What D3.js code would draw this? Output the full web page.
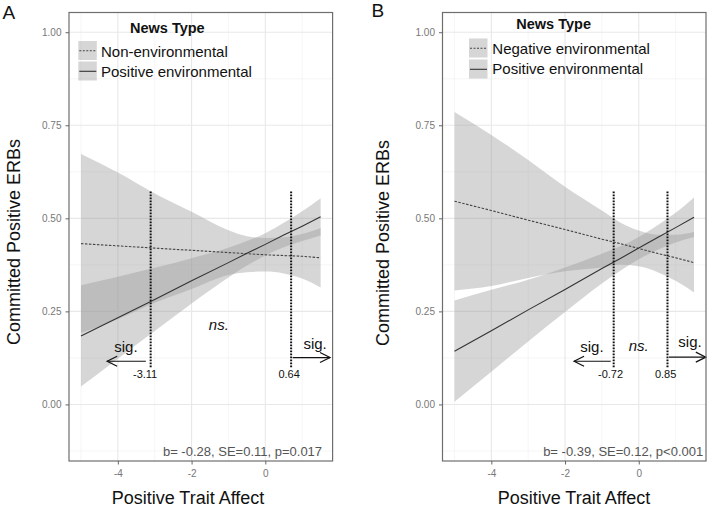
<!DOCTYPE html>
<html><head><meta charset="utf-8">
<script src="https://cdn.jsdelivr.net/npm/d3@7"></script>
<style>body{margin:0;background:#fff} text{font-family:"Liberation Sans",Arial,Helvetica,sans-serif}</style>
</head><body><svg id="c" width="708" height="506"></svg>
<script>
// ---------- data ----------
const xMajor = [-4, -2, 0];
const xMinor = [-5, -3, -1, 1];
const yMajor = [0, 0.25, 0.5, 0.75, 1];
const yMinor = [-0.125, 0.125, 0.375, 0.625, 0.875];
const yTickLabels = ["0.00", "0.25", "0.50", "0.75", "1.00"];
const xTickLabels = ["-4", "-2", "0"];

const traitX = [-5, -4, -3, -2, -1, -0.5, 0, 0.5, 1, 1.5];

// Panel A
const aNonFit   = [0.432, 0.426, 0.420, 0.414, 0.408, 0.405, 0.402, 0.400, 0.398, 0.394];
const aNonLow   = [0.192, 0.229, 0.273, 0.310, 0.348, 0.355, 0.357, 0.352, 0.338, 0.314];
const aNonHigh  = [0.673, 0.623, 0.567, 0.518, 0.468, 0.452, 0.447, 0.449, 0.458, 0.474];
const aPosFit   = [0.184, 0.233, 0.282, 0.332, 0.381, 0.406, 0.430, 0.455, 0.479, 0.504];
const aPosLow   = [0.048, 0.123, 0.197, 0.271, 0.341, 0.373, 0.400, 0.422, 0.439, 0.454];
const aPosHigh  = [0.320, 0.343, 0.367, 0.393, 0.421, 0.439, 0.460, 0.488, 0.519, 0.554];

// Panel B
const bNegFit   = [0.546, 0.521, 0.495, 0.470, 0.444, 0.432, 0.419, 0.406, 0.394, 0.381];
const bNegLow   = [0.306, 0.318, 0.340, 0.358, 0.368, 0.375, 0.371, 0.356, 0.332, 0.301];
const bNegHigh  = [0.786, 0.724, 0.657, 0.585, 0.521, 0.489, 0.467, 0.456, 0.456, 0.463];
const bPosFit   = [0.143, 0.198, 0.254, 0.309, 0.365, 0.392, 0.420, 0.448, 0.475, 0.503];
const bPosLow   = [0.007, 0.088, 0.169, 0.248, 0.325, 0.359, 0.390, 0.415, 0.435, 0.450];
const bPosHigh  = [0.279, 0.308, 0.335, 0.368, 0.405, 0.425, 0.450, 0.481, 0.515, 0.556];

// Johnson-Neyman markers
const aJNx = [-3.11, 0.70];
const aJNlabels = ["-3.11", "0.64"];
const aJNlabelX = [-3.26, 0.645];
const bJNx = [-0.68, 0.78];
const bJNlabels = ["-0.72", "0.85"];
const bJNlabelX = [-0.765, 0.73];
const jnYRange = [0.10, 0.575];

const aArrows = [[-3.24, -4.29, 0.116], [0.743, 1.755, 0.126]];
const bArrows = [[-0.76, -1.755, 0.116], [0.82, 1.82, 0.127]];

const aNotes = [["sig.", -3.78, 0.141, false], ["ns.", -1.26, 0.199, true], ["sig.", 1.35, 0.150, false]];
const bNotes = [["sig.", -1.27, 0.141, false], ["ns.", 0.0, 0.143, true], ["sig.", 1.39, 0.154, false]];

const aStat = ["b= -0.28, SE=0.11, p=0.017", 1.54, -0.139];
const bStat = ["b= -0.39, SE=0.12, p<0.001", 1.75, -0.139];

const aLegend = ["Non-environmental", "Positive environmental"];
const bLegend = ["Negative environmental", "Positive environmental"];

// ---------- drawing ----------
const svg = d3.select("#c");
svg.append("rect").attr("width", 708).attr("height", 506).attr("fill", "#fff");

const xDomain = [-5.325, 1.825];
const yDomain = [-0.152, 1.053];

function panel(cfg) {
  const x = d3.scaleLinear().domain(xDomain).range([cfg.left, cfg.right]);
  const y = d3.scaleLinear().domain(yDomain).range([461, 12.5]);
  const g = svg.append("g");

  // grid
  g.selectAll(".gxm").data(xMinor).join("line")
    .attr("x1", d => x(d)).attr("x2", d => x(d)).attr("y1", y.range()[0]).attr("y2", y.range()[1])
    .attr("stroke", "#f2f2f2").attr("stroke-width", 0.7);
  g.selectAll(".gym").data(yMinor).join("line")
    .attr("y1", d => y(d)).attr("y2", d => y(d)).attr("x1", cfg.left).attr("x2", cfg.right)
    .attr("stroke", "#f2f2f2").attr("stroke-width", 0.7);
  g.selectAll(".gxM").data(xMajor).join("line")
    .attr("x1", d => x(d)).attr("x2", d => x(d)).attr("y1", y.range()[0]).attr("y2", y.range()[1])
    .attr("stroke", "#e8e8e8").attr("stroke-width", 1.1);
  g.selectAll(".gyM").data(yMajor).join("line")
    .attr("y1", d => y(d)).attr("y2", d => y(d)).attr("x1", cfg.left).attr("x2", cfg.right)
    .attr("stroke", "#e8e8e8").attr("stroke-width", 1.1);

  // ribbons
  const area = d3.area().x(d => x(d[0])).y0(d => y(d[1])).y1(d => y(d[2])).curve(d3.curveMonotoneX);
  cfg.series.forEach(s => {
    const pts = traitX.map((t, i) => [t, s.low[i], s.high[i]]);
    g.append("path").attr("d", area(pts)).attr("fill", "#999").attr("fill-opacity", 0.4);
  });
  // fit lines
  const line = d3.line().x(d => x(d[0])).y(d => y(d[1]));
  cfg.series.forEach(s => {
    const pts = traitX.map((t, i) => [t, s.fit[i]]);
    g.append("path").attr("d", line(pts)).attr("fill", "none")
      .attr("stroke", s.dashed ? "#444" : "#333").attr("stroke-width", 1.1)
      .attr("stroke-dasharray", s.dashed ? "2.5,1.5" : null);
  });

  // JN lines
  g.selectAll(".jn").data(cfg.jn).join("line")
    .attr("x1", d => x(d)).attr("x2", d => x(d))
    .attr("y1", y(jnYRange[0])).attr("y2", y(jnYRange[1]))
    .attr("stroke", "#111").attr("stroke-width", 2).attr("stroke-dasharray", "1.6,1.4");
  g.selectAll(".jnl").data(cfg.jnLabels).join("text")
    .attr("x", (d, i) => x(cfg.jnLabelX[i])).attr("y", y(0.07))
    .attr("text-anchor", "middle").attr("font-size", 11).attr("fill", "#111").text(d => d);

  // arrows
  cfg.arrows.forEach(a => {
    const x1 = x(a[0]), x2 = x(a[1]), yy = y(a[2]);
    const dir = x2 < x1 ? 1 : -1;
    g.append("line").attr("x1", x1).attr("x2", x2).attr("y1", yy).attr("y2", yy)
      .attr("stroke", "#111").attr("stroke-width", 1.2);
    g.append("path").attr("d", `M${x2 + dir * 10},${yy - 5}L${x2},${yy}L${x2 + dir * 10},${yy + 5}`)
      .attr("fill", "none").attr("stroke", "#111").attr("stroke-width", 1.2);
  });
  // notes
  cfg.notes.forEach(n => {
    g.append("text").attr("x", x(n[1])).attr("y", y(n[2])).attr("text-anchor", "middle")
      .attr("font-size", 15).attr("font-style", n[3] ? "italic" : null).attr("fill", "#111").text(n[0]);
  });
  // stat
  g.append("text").attr("x", x(cfg.stat[1])).attr("y", y(cfg.stat[2])).attr("text-anchor", "end")
    .attr("font-size", 13).attr("fill", "#555").text(cfg.stat[0]);

  // border
  g.append("rect").attr("x", cfg.left).attr("y", 12.5).attr("width", cfg.right - cfg.left).attr("height", 461 - 12.5)
    .attr("fill", "none").attr("stroke", "#6e6e6e").attr("stroke-width", 1.2);

  // axes
  const ax = g.append("g").attr("transform", "translate(0,461)")
    .call(d3.axisBottom(x).tickValues(xMajor).tickFormat((d, i) => xTickLabels[i]).tickSize(3.5).tickPadding(5.5));
  const ay = g.append("g").attr("transform", `translate(${cfg.left},0)`)
    .call(d3.axisLeft(y).tickValues(yMajor).tickFormat((d, i) => yTickLabels[i]).tickSize(3.5).tickPadding(4));
  [ax, ay].forEach(a => {
    a.select(".domain").remove();
    a.selectAll("line").attr("stroke", "#666");
    a.selectAll("text").attr("fill", "#777").attr("font-size", 10)
      .attr("font-family", '"Liberation Sans",Arial,sans-serif');
  });

  // axis titles
  svg.append("text").attr("x", cfg.xTitleX).attr("y", 503.5).attr("text-anchor", "middle")
    .attr("font-size", 18).attr("fill", "#111").text("Positive Trait Affect");
  svg.append("text").attr("transform", `translate(${cfg.yTitleX},${cfg.yTitleY}) rotate(-90)`)
    .attr("text-anchor", "middle").attr("font-size", 18).attr("fill", "#111").text("Committed Positive ERBs");
  // panel letter
  svg.append("text").attr("x", cfg.letterX).attr("y", cfg.letterY).attr("font-size", 19).attr("fill", "#111").text(cfg.letter);

  // legend
  const lg = cfg.legend;
  svg.append("text").attr("x", lg.titleX).attr("y", lg.titleY).attr("font-size", 14.5).attr("font-weight", "bold")
    .attr("fill", "#111").text("News Type");
  lg.labels.forEach((lab, i) => {
    const ky = lg.keyY[i];
    svg.append("rect").attr("x", lg.keyX).attr("y", ky).attr("width", 18.5).attr("height", 19)
      .attr("fill", "#999").attr("fill-opacity", 0.4);
    svg.append("line").attr("x1", lg.keyX + 1).attr("x2", lg.keyX + 18).attr("y1", ky + 9.8).attr("y2", ky + 9.8)
      .attr("stroke", i === 0 ? "#444" : "#333").attr("stroke-width", 1.1)
      .attr("stroke-dasharray", i === 0 ? "2,1.5" : null);
    svg.append("text").attr("x", lg.textX).attr("y", lg.textY[i]).attr("font-size", 15).attr("fill", "#111").text(lab);
  });
}

panel({
  left: 69, right: 332.6,
  series: [
    {fit: aNonFit, low: aNonLow, high: aNonHigh, dashed: true},
    {fit: aPosFit, low: aPosLow, high: aPosHigh, dashed: false}
  ],
  jn: aJNx, jnLabels: aJNlabels, jnLabelX: aJNlabelX,
  arrows: aArrows, notes: aNotes, stat: aStat,
  xTitleX: 188, yTitleX: 20, yTitleY: 242,
  letter: "A", letterX: 2.5, letterY: 18.5,
  legend: {titleX: 130, titleY: 33.3, keyX: 78.3, keyY: [41, 61.5], textX: 101, textY: [57, 77], labels: aLegend}
});
panel({
  left: 442.5, right: 706,
  series: [
    {fit: bNegFit, low: bNegLow, high: bNegHigh, dashed: true},
    {fit: bPosFit, low: bPosLow, high: bPosHigh, dashed: false}
  ],
  jn: bJNx, jnLabels: bJNlabels, jnLabelX: bJNlabelX,
  arrows: bArrows, notes: bNotes, stat: bStat,
  xTitleX: 574, yTitleX: 389, yTitleY: 243,
  letter: "B", letterX: 371.5, letterY: 17,
  legend: {titleX: 516.3, titleY: 29.3, keyX: 469, keyY: [38.5, 59.5], textX: 492.3, textY: [54.3, 73.5], labels: bLegend}
});
</script></body></html>
